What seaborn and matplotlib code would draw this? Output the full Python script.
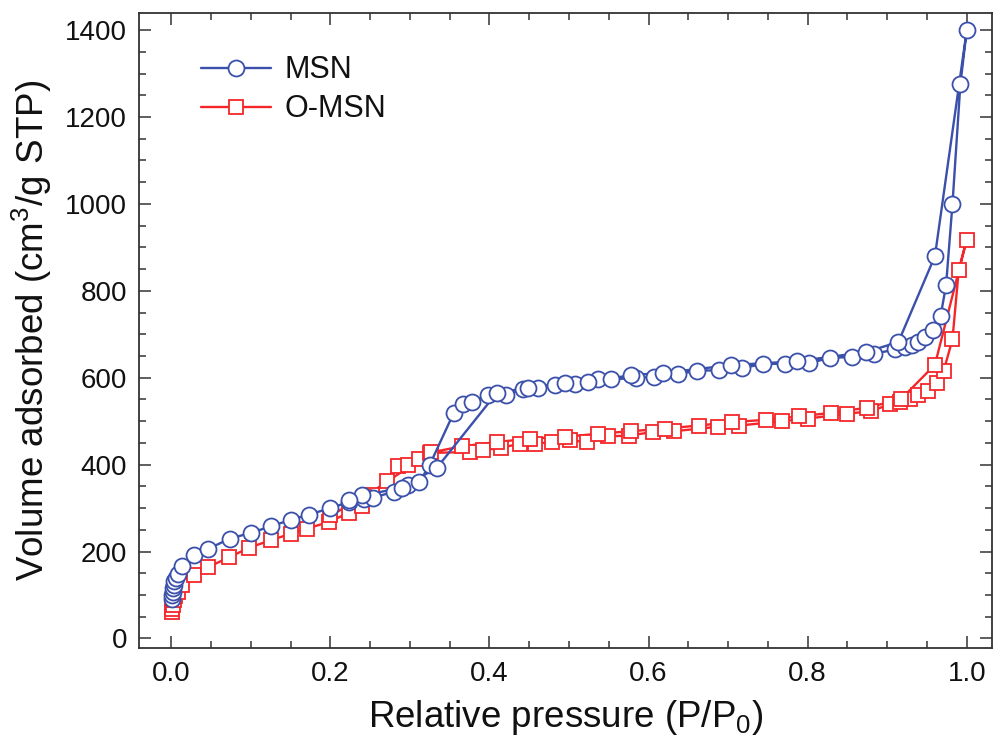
import numpy as np
import pandas as pd
import seaborn as sns
import matplotlib.pyplot as plt
from matplotlib.ticker import MultipleLocator

# MSN isotherm: adsorption branch then desorption branch
msn_ads_p = [0.0005, 0.001, 0.0015, 0.002, 0.003, 0.004, 0.006, 0.008, 0.013, 0.029,
             0.046, 0.074, 0.100, 0.125, 0.150, 0.173, 0.200, 0.223, 0.242, 0.254,
             0.280, 0.298, 0.312, 0.325, 0.355, 0.367, 0.378, 0.398, 0.421, 0.442,
             0.461, 0.482, 0.507, 0.536, 0.553, 0.584, 0.607, 0.637, 0.661, 0.689,
             0.718, 0.744, 0.772, 0.802, 0.828, 0.856, 0.883, 0.910, 0.922, 0.931,
             0.939, 0.947, 0.957, 0.967, 0.974, 0.982, 0.992, 1.000]
msn_ads_v = [90, 100, 108, 116, 124, 132, 140, 148, 166, 191,
             206, 230, 243, 258, 273, 285, 300, 314, 320, 324,
             338, 352, 360, 400, 519, 540, 544, 560, 561, 573,
             577, 583, 586, 596, 596, 600, 602, 608, 614, 617,
             622, 630, 632, 634, 642, 648, 655, 665, 670, 675,
             682, 693, 709, 741, 813, 999, 1276, 1400]
msn_des_p = [0.992, 0.960, 0.914, 0.873, 0.828, 0.787, 0.744, 0.704, 0.661, 0.618,
             0.578, 0.524, 0.495, 0.449, 0.409, 0.367, 0.334, 0.290, 0.240, 0.224]
msn_des_v = [1276, 880, 682, 659, 649, 638, 634, 629, 619, 611,
             606, 590, 588, 577, 565, 540, 393, 347, 329, 318]

# O-MSN isotherm
omsn_ads_p = [0.0005, 0.001, 0.002, 0.003, 0.005, 0.008, 0.014, 0.029, 0.046, 0.073,
              0.098, 0.125, 0.150, 0.171, 0.198, 0.223, 0.240, 0.252, 0.271, 0.285,
              0.298, 0.311, 0.325, 0.376, 0.392, 0.415, 0.438, 0.457, 0.478, 0.501,
              0.522, 0.549, 0.576, 0.605, 0.632, 0.687, 0.714, 0.768, 0.800, 0.849,
              0.879, 0.904, 0.916, 0.929, 0.939, 0.951, 0.962, 0.971, 0.982, 0.990,
              1.000]
omsn_ads_v = [60, 68, 78, 88, 98, 108, 122, 145, 164, 187,
              209, 226, 241, 253, 268, 289, 305, 329, 362, 394,
              400, 414, 427, 429, 433, 439, 448, 448, 452, 456,
              452, 465, 467, 475, 477, 487, 490, 500, 506, 517,
              523, 539, 545, 552, 560, 569, 588, 616, 688, 849,
              918]
omsn_des_p = [0.990, 0.960, 0.917, 0.874, 0.829, 0.789, 0.747, 0.705, 0.663, 0.621,
              0.578, 0.536, 0.495, 0.451, 0.409, 0.365, 0.326, 0.285, 0.242, 0.200]
omsn_des_v = [849, 630, 550, 531, 519, 511, 503, 498, 490, 483,
              477, 471, 464, 460, 452, 442, 428, 398, 325, 283]

msn = pd.DataFrame({"p": msn_ads_p + msn_des_p, "v": msn_ads_v + msn_des_v})
omsn = pd.DataFrame({"p": omsn_ads_p + omsn_des_p, "v": omsn_ads_v + omsn_des_v})

sns.set_style("ticks")
plt.rcParams["font.family"] = ["Liberation Sans", "DejaVu Sans"]
plt.rcParams["mathtext.fontset"] = "custom"
plt.rcParams["mathtext.rm"] = "Liberation Sans"
for k in ["text.color", "axes.labelcolor", "xtick.labelcolor", "ytick.labelcolor"]:
    plt.rcParams[k] = "#111111"

blue = "#3a50aa"
red = "#f5262a"

fig = plt.figure(figsize=(9.95, 7.47), dpi=100)
ax = fig.add_axes([0.1402, 0.1325, 0.857, 0.8505])

sns.lineplot(data=omsn, x="p", y="v", sort=False, ax=ax, color=red, lw=1.7,
             marker="s", ms=10, mfc="white", mec=red, mew=1.3, label="O-MSN")
sns.lineplot(data=msn, x="p", y="v", sort=False, ax=ax, color=blue, lw=1.7,
             marker="o", ms=11.5, mfc="white", mec=blue, mew=1.3, label="MSN")

ax.set_xlim(-0.04, 1.032)
ax.set_ylim(-22, 1440)
ax.xaxis.set_major_locator(MultipleLocator(0.2))
ax.xaxis.set_minor_locator(MultipleLocator(0.05))
ax.yaxis.set_major_locator(MultipleLocator(200))
ax.yaxis.set_minor_locator(MultipleLocator(50))
ax.xaxis.set_major_formatter(plt.FuncFormatter(lambda x, pos: f"{x:.1f}"))

ax.tick_params(which="both", direction="in", top=True, right=True,
               color="#333333", width=1.1, labelsize=20, pad=9)
ax.tick_params(which="major", length=8.5)
ax.tick_params(which="minor", length=5)
for s in ax.spines.values():
    s.set_linewidth(1.3)
    s.set_color("#333333")

ax.set_xlabel(r"Relative pressure $\mathregular{(P/P_0)}$", fontsize=26.5, labelpad=8)
ax.set_ylabel(r"Volume adsorbed $\mathregular{(cm^3/g\ STP)}$", fontsize=26.5, labelpad=8)

h, l = ax.get_legend_handles_labels()
ax.legend(h[::-1], l[::-1], loc="upper left", bbox_to_anchor=(0.072, 0.933),
          frameon=False, fontsize=22, handlelength=2.3, handletextpad=0.45,
          labelspacing=0.3, borderpad=0, borderaxespad=0)

fig.savefig("out.png", dpi=100)
